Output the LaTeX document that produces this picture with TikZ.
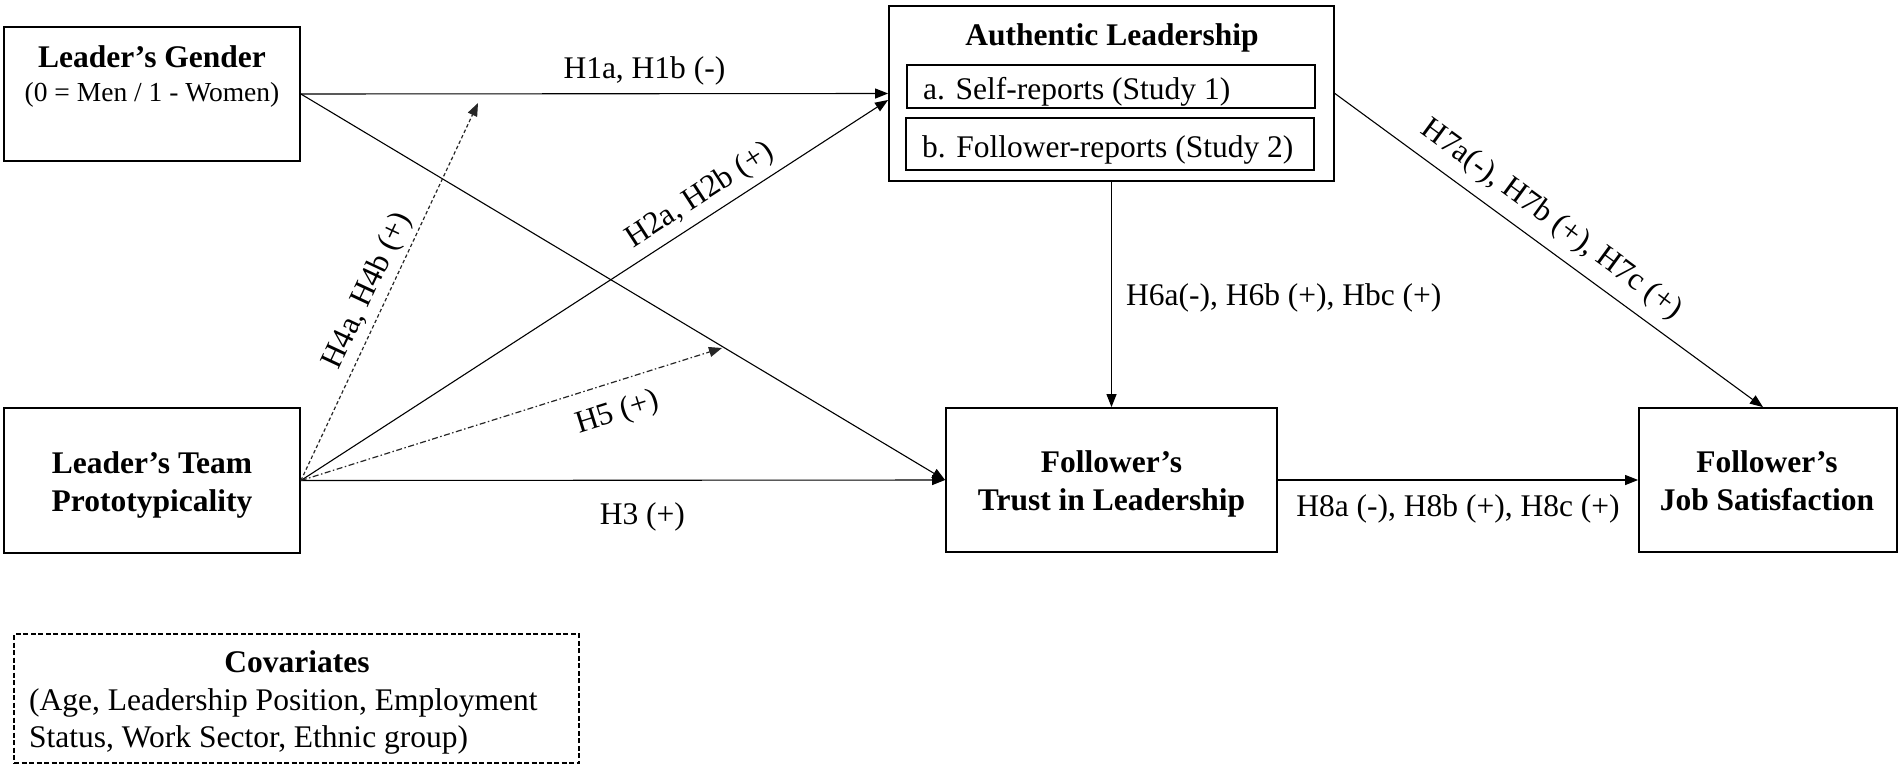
\documentclass[tikz,border=0pt]{standalone}
\usepackage{fontspec}
\setmainfont{Liberation Serif}
\usetikzlibrary{arrows.meta}
\begin{document}
\begin{tikzpicture}[x=1pt,y=-1pt,
  box/.style={draw=black, line width=1.8pt, inner sep=0pt},
  covbox/.style={draw=black, line width=1.5pt, inner sep=0pt, dash pattern=on 5pt off 2.5pt},
  txt/.style={inner sep=0pt, font=\fontsize{31.5}{37}\selectfont},
  btxt/.style={inner sep=0pt, font=\fontsize{31.5}{37}\selectfont\bfseries},
  stxt/.style={inner sep=0pt, font=\fontsize{27.5}{32}\selectfont},
  lab/.style={inner sep=0pt, font=\fontsize{31.5}{37}\selectfont},
  conn/.style={draw=black, line width=1.1pt, -{Triangle[length=13pt,width=10pt]}},
  dashconn/.style={draw=black!85, line width=1.2pt, dash pattern=on 3.5pt off 2.5pt, -{Triangle[length=13pt,width=10pt]}},
  dotconn/.style={draw=black!85, line width=1.2pt, dash pattern=on 6pt off 2.5pt on 1.5pt off 2.5pt, -{Triangle[length=13pt,width=10pt]}}
]
\useasboundingbox (0,0) rectangle (1902,772);

% boxes
\node[box, minimum width=296, minimum height=134] (gender) at (152,94) {};
\node[btxt, anchor=base] (gendert) at (152,67) {Leader’s Gender};
\node[stxt, anchor=base] (genders) at (152,101) {(0 = Men / 1 - Women)};

\node[box, minimum width=296, minimum height=145] (proto) at (152,480.5) {};
\node[btxt, anchor=base] (protot1) at (152,473) {Leader’s Team};
\node[btxt, anchor=base] (protot2) at (152,511) {Prototypicality};

\node[box, minimum width=445, minimum height=175] (auth) at (1111.5,93.5) {};
\node[btxt, anchor=base] (autht) at (1112,45) {Authentic Leadership};
\node[box, minimum width=408, minimum height=43] (inna) at (1111,86.5) {};
\node[txt, anchor=base west] (innat) at (923,99) {a. Self-reports (Study 1)};
\node[box, minimum width=408, minimum height=52] (innb) at (1110,144) {};
\node[txt, anchor=base west] (innbt) at (922,157) {b. Follower-reports (Study 2)};

\node[box, minimum width=331, minimum height=144] (trust) at (1111.5,480) {};
\node[btxt, anchor=base] (trustt1) at (1111.5,472) {Follower’s};
\node[btxt, anchor=base] (trustt2) at (1111.5,510) {Trust in Leadership};

\node[box, minimum width=258, minimum height=144] (jobsat) at (1768,480) {};
\node[btxt, anchor=base] (jobsatt1) at (1767,472) {Follower’s};
\node[btxt, anchor=base] (jobsatt2) at (1767,510) {Job Satisfaction};

\node[covbox, minimum width=565, minimum height=129] (cov) at (296.5,698.5) {};
\node[btxt, anchor=base] (covt) at (297,672) {Covariates};
\node[txt, anchor=base west] (covl1) at (29,710) {(Age, Leadership Position, Employment};
\node[txt, anchor=base west] (covl2) at (29,747) {Status, Work Sector, Ethnic group)};

% helper coordinates
\coordinate (a2) at ([yshift=-6.5pt]auth.west);
\coordinate (h4tip) at (478,103);
\coordinate (h5tip) at (722,348);
\coordinate (h7end) at ([xshift=-5pt]jobsat.north);

% connectors
\draw[conn] (gender.east) -- node[lab, pos=0.585, above=8pt] (l1) {H1a, H1b (-)} (auth.west);
\draw[conn] (gender.east) -- (trust.west);
\draw[conn] (proto.east) -- node[lab, pos=0.7, sloped, above=7pt] (l2) {H2a, H2b (+)} (a2);
\draw[conn] (proto.east) -- node[lab, pos=0.53, below=22pt] (l3) {H3 (+)} (trust.west);
\draw[dashconn] (proto.east) -- node[lab, pos=0.48, sloped, above=5pt] (l4) {H4a, H4b (+)} (h4tip);
\draw[dotconn] (proto.east) -- node[lab, pos=0.73, sloped, below=16pt] (l5) {H5 (+)} (h5tip);
\draw[conn] (auth.south) -- node[lab, pos=0.515, right=14pt] (l6) {H6a(-), H6b (+), Hbc (+)} (trust.north);
\draw[conn] (auth.east) -- node[lab, pos=0.47, sloped, above=11pt] (l7) {H7a(-), H7b (+), H7c (+)} (h7end);
\draw[conn] (trust.east) -- node[lab, pos=0.5, below=14pt] (l8) {H8a (-), H8b (+), H8c (+)} (jobsat.west);
\end{tikzpicture}
\end{document}
